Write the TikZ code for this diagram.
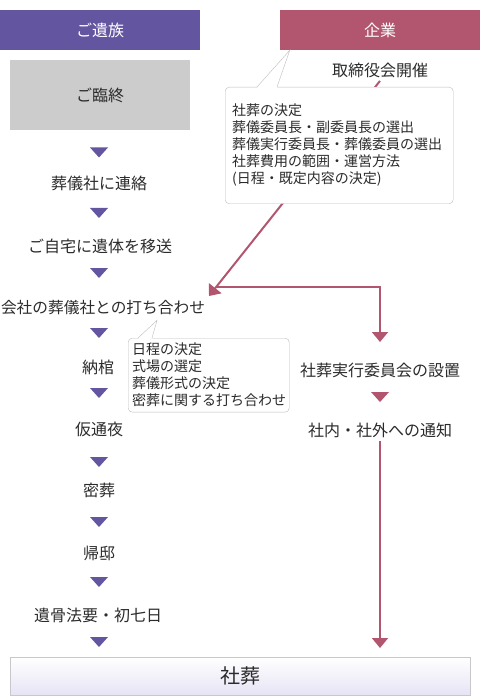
\documentclass[tikz,border=0pt]{standalone}
\usepackage{fontspec}
\newfontfamily\jp{Noto Sans CJK JP}
\usepackage{tikz}
\usetikzlibrary{arrows.meta}
\definecolor{famcol}{HTML}{6455A0}
\definecolor{corpcol}{HTML}{B2566F}
\definecolor{boxgray}{HTML}{CCCCCC}
\definecolor{notegray}{HTML}{BDBDBD}
\definecolor{framegray}{HTML}{C8C8CC}
\definecolor{lav}{HTML}{E6E4F5}
\definecolor{txtcol}{HTML}{2B2B2B}
\newcommand{\marktri}[3]{\fill[#1] ({#2-9},{#3-5}) -- ({#2+9},{#3-5}) -- (#2,{#3+5}) -- cycle;}

\begin{document}
\begin{tikzpicture}[x=1pt,y=-1pt,
  head/.style={minimum width=200pt,minimum height=40pt,inner sep=0pt,text=white,font=\jp\fontsize{16}{19}\selectfont},
  stage/.style={text=txtcol,font=\jp\fontsize{16}{19}\selectfont},
  note/.style={draw=notegray,fill=white,rounded corners=4pt,anchor=north west,align=left,text=txtcol,font=\jp\fontsize{14}{17}\selectfont},
  notelink/.style={draw=notegray},
  corparrow/.style={corpcol,line width=2pt,-{Triangle[width=16pt,length=10pt]}}]
  \useasboundingbox (0,0) rectangle (480,700);

  % headers
  \node[head,fill=famcol] (family) at (100,30) {ご遺族};
  \node[head,fill=corpcol] (company) at (380,30) {企業};

  % family side
  \node[stage,fill=boxgray,minimum width=180pt,minimum height=70pt] (demise) at (100,95) {ご臨終};
  \node[stage] (contact) at (99,183) {葬儀社に連絡};
  \node[stage] (transfer) at (100,246) {ご自宅に遺体を移送};
  \node[stage,font=\jp\fontsize{15.7}{19}\selectfont] (meeting) at (103,307.5) {会社の葬儀社との打ち合わせ};
  \node[stage] (coffin) at (98,367.5) {納棺};
  \node[stage] (wake) at (99,429.5) {仮通夜};
  \node[stage] (private) at (99,490) {密葬};
  \node[stage] (return) at (99,553) {帰邸};
  \node[stage] (memorial) at (98,615) {遺骨法要・初七日};

  \marktri{famcol}{99}{152.5}
  \marktri{famcol}{99}{213}
  \marktri{famcol}{99}{273}
  \marktri{famcol}{99}{333}
  \marktri{famcol}{99}{393}
  \marktri{famcol}{99}{462}
  \marktri{famcol}{99}{522}
  \marktri{famcol}{99}{582}
  \marktri{famcol}{99}{642}

  % company side
  \node[stage] (board) at (380,70) {取締役会開催};
  \node[stage] (committee) at (380,370) {社葬実行委員会の設置};
  \node[stage] (notice) at (380,430) {社内・社外への通知};
  \marktri{corpcol}{380}{397}

  \coordinate (diagend) at (209,296);
  \coordinate (split) at (217,287);
  \coordinate (turn) at (380,287);
  \coordinate (cin) at (380,342);
  \coordinate (fin) at (380,648);
  \draw[corparrow] (board.south) -- (diagend);
  \draw[corparrow] (split) -- (turn) -- (cin);
  \draw[corparrow] (notice.south) -- (fin);

  % notes
  \node[note,text width=214pt,inner xsep=7pt,inner ysep=17pt] (boardnote) at (225,87) {社葬の決定\\葬儀委員長・副委員長の選出\\葬儀実行委員長・葬儀委員の選出\\社葬費用の範囲・運営方法\\(日程・既定内容の決定)};
  \fill[white] ([xshift=32pt,yshift=-1pt]boardnote.north west) -- ([xshift=10pt]company.south west) -- ([xshift=52pt,yshift=-1pt]boardnote.north west) -- cycle;
  \draw[notelink] ([xshift=32pt]boardnote.north west) -- ([xshift=10pt]company.south west) -- ([xshift=52pt]boardnote.north west);

  \node[note,text width=153pt,inner xsep=4pt,inner ysep=5pt] (meetnote) at (128,338) {日程の決定\\式場の選定\\葬儀形式の決定\\密葬に関する打ち合わせ};
  \fill[white] ([xshift=10pt,yshift=-1pt]meetnote.north west) -- ([xshift=54pt,yshift=-2pt]meeting.south) -- ([xshift=24pt,yshift=-1pt]meetnote.north west) -- cycle;
  \draw[notelink] ([xshift=10pt]meetnote.north west) -- ([xshift=54pt,yshift=-2pt]meeting.south) -- ([xshift=24pt]meetnote.north west);

  % funeral
  \node[stage,draw=framegray,top color=white,bottom color=lav,minimum width=460pt,minimum height=38pt,font=\jp\fontsize{20}{24}\selectfont] (funeral) at (240,676) {社葬};
\end{tikzpicture}
\end{document}
